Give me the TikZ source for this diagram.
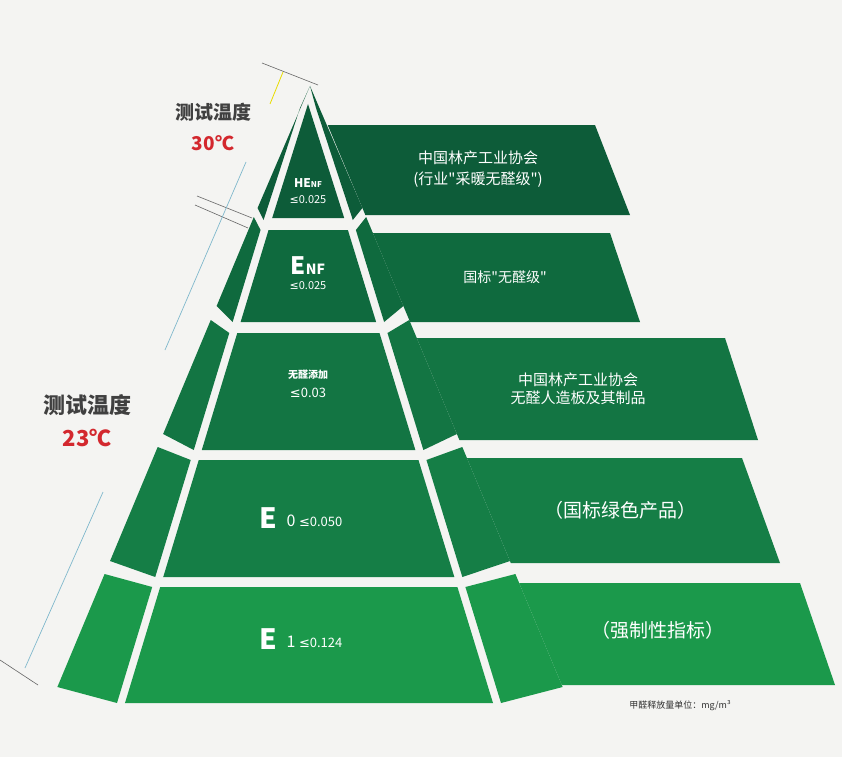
\documentclass[tikz,border=0pt]{standalone}
\usepackage{fontspec}
\setmainfont{Noto Sans CJK SC}
\newfontfamily\plainq{Noto Sans CJK SC}
\newfontfamily\symf{DejaVu Sans}
\definecolor{Bgray}{HTML}{F4F4F2}
\definecolor{Gone}{HTML}{0D5C39}
\definecolor{Gtwo}{HTML}{0F6A3E}
\definecolor{Gthree}{HTML}{137543}
\definecolor{Gfour}{HTML}{157E46}
\definecolor{Gfive}{HTML}{1B994B}
\definecolor{Tred}{HTML}{D3282E}
\definecolor{Tblue}{HTML}{7FB8CC}
\tikzset{
    lbl/.style={white, font=\fontsize{15}{18}\selectfont, align=center},
    tick/.style={gray!80!black, line width=0.6pt}
}
\newcommand{\lesym}{{\symf ≤}}
\newcommand{\qmark}{{\plainq"}}
% left and right edges of the middle column, and the outer edges
\newcommand{\pcl}[1]{(308-0.3035*(#1-100))}
\newcommand{\pcr}[1]{(308+0.3068*(#1-100))}
\newcommand{\pol}[1]{(309-0.418*(#1-85))}
\newcommand{\por}[1]{(311+0.418*(#1-85))}
\begin{document}
\begin{tikzpicture}[x=1pt, y=-1pt]
    \fill[Bgray] (0,0) rectangle (842,757);
    \useasboundingbox (0,0) rectangle (842,757);
    % label boxes
    \fill[Gone] ({\por{125}},125) -- (595,125) -- (630,215) -- ({\por{215}},215) -- cycle;
    \fill[Gtwo] ({\por{233}},233) -- (610,233) -- (640,322) -- ({\por{322}},322) -- cycle;
    \fill[Gthree] ({\por{338}},338) -- (725,338) -- (758,440) -- ({\por{440}},440) -- cycle;
    \fill[Gfour] ({\por{458}},458) -- (742,458) -- (780,563) -- ({\por{563}},563) -- cycle;
    \fill[Gfive] ({\por{583}},583) -- (800,583) -- (835,685) -- ({\por{685}},685) -- cycle;
    % top band
    \fill[Gone] (308,104) -- ({\pcl{218}},218) -- ({\pcr{218}},218) -- cycle;
    \fill[Gone] (310,86) -- (300,108) -- ({\pcl{220}-8},220) -- ({\pol{208}},208) -- cycle;
    \fill[Gone] (310,86) -- (316,108) -- ({\pcr{220}+8},220) -- ({\por{208}},208) -- cycle;
    % lower bands: top, bottom, colour
    \foreach \a/\b/\c in {230/322/Gtwo, 333/450/Gthree, 460/577/Gfour, 587/703/Gfive}{
        \fill[\c] ({\pcl{\a}},\a) -- ({\pcr{\a}},\a) -- ({\pcr{\b}},\b) -- ({\pcl{\b}},\b) -- cycle;
        \fill[\c] ({\pcl{\a}-8},\a) -- ({\pol{\a-13}},{\a-13}) -- ({\pol{\b-16}},{\b-16}) -- ({\pcl{\b}-8},\b) -- cycle;
        \fill[\c] ({\pcr{\a}+8},\a) -- ({\por{\a-13}},{\a-13}) -- ({\por{\b-16}},{\b-16}) -- ({\pcr{\b}+8},\b) -- cycle;
    }
    % measuring lines
    \draw[tick] (262,63) -- (318,85);
    \draw[yellow!80!olive, line width=0.8pt] (283,72) -- (270,104);
    \draw[tick] (197,196) -- (252,218);
    \draw[tick] (195,205) -- (248,228);
    \draw[Tblue, line width=0.7pt] (246,162) -- (165,350);
    \draw[Tblue, line width=0.7pt] (103,492) -- (25,668);
    \draw[tick] (0,660) -- (38,685);
    % texts
    \node[font=\bfseries\fontsize{19}{22}\selectfont, text=black!75] (tA) at (213,112) {测试温度};
    \node[font=\bfseries\fontsize{19}{22}\selectfont, text=Tred] (tB) at (213,143) {30℃};
    \node[font=\bfseries\fontsize{22}{26}\selectfont, text=black!75] (tC) at (87,405) {测试温度};
    \node[font=\bfseries\fontsize{22}{26}\selectfont, text=Tred] (tD) at (87,438) {23℃};
    \node[white, font=\bfseries\fontsize{12}{14}\selectfont] (henf) at (308,183) {HE{\fontsize{8}{9}\selectfont NF}};
    \node[white, font=\fontsize{11}{13}\selectfont] (vA) at (308,200) {\lesym0.025};
    \node[white, font=\bfseries\fontsize{24}{26}\selectfont] (enf) at (308,266) {E{\fontsize{14}{15}\selectfont NF}};
    \node[white, font=\fontsize{11}{13}\selectfont] (vB) at (308,286) {\lesym0.025};
    \node[white, font=\bfseries\fontsize{10}{12}\selectfont] (wq) at (308,375) {无醛添加};
    \node[white, font=\fontsize{13}{15}\selectfont] (vC) at (308,393) {\lesym0.03};
    \node[white, font=\bfseries\fontsize{28}{30}\selectfont] (ezero) at (268,518) {E};
    \node[white, font=\fontsize{16}{18}\selectfont, anchor=west] (vD) at (283,521) {0 {\fontsize{13}{15}\selectfont \lesym0.050}};
    \node[white, font=\bfseries\fontsize{28}{30}\selectfont] (eone) at (268,639) {E};
    \node[white, font=\fontsize{16}{18}\selectfont, anchor=west] (vE) at (283,642) {1 {\fontsize{13}{15}\selectfont \lesym0.124}};
    \node[lbl] (lA) at (478,169) {中国林产工业协会\\[3pt](行业\qmark 采暖无醛级\qmark)};
    \node[lbl, font=\fontsize{14}{17}\selectfont] (lB) at (505,277) {国标\qmark 无醛级\qmark};
    \node[lbl] (lC) at (578,389) {中国林产工业协会\\无醛人造板及其制品};
    \node[lbl, font=\fontsize{19}{22}\selectfont] (lD) at (620,510) {（国标绿色产品）};
    \node[lbl, font=\fontsize{19}{22}\selectfont] (lE) at (658,630) {（强制性指标）};
    \node[text=black!80, font=\fontsize{9}{11}\selectfont] (unit) at (680,706) {甲醛释放量单位：mg/m³};
\end{tikzpicture}
\end{document}
